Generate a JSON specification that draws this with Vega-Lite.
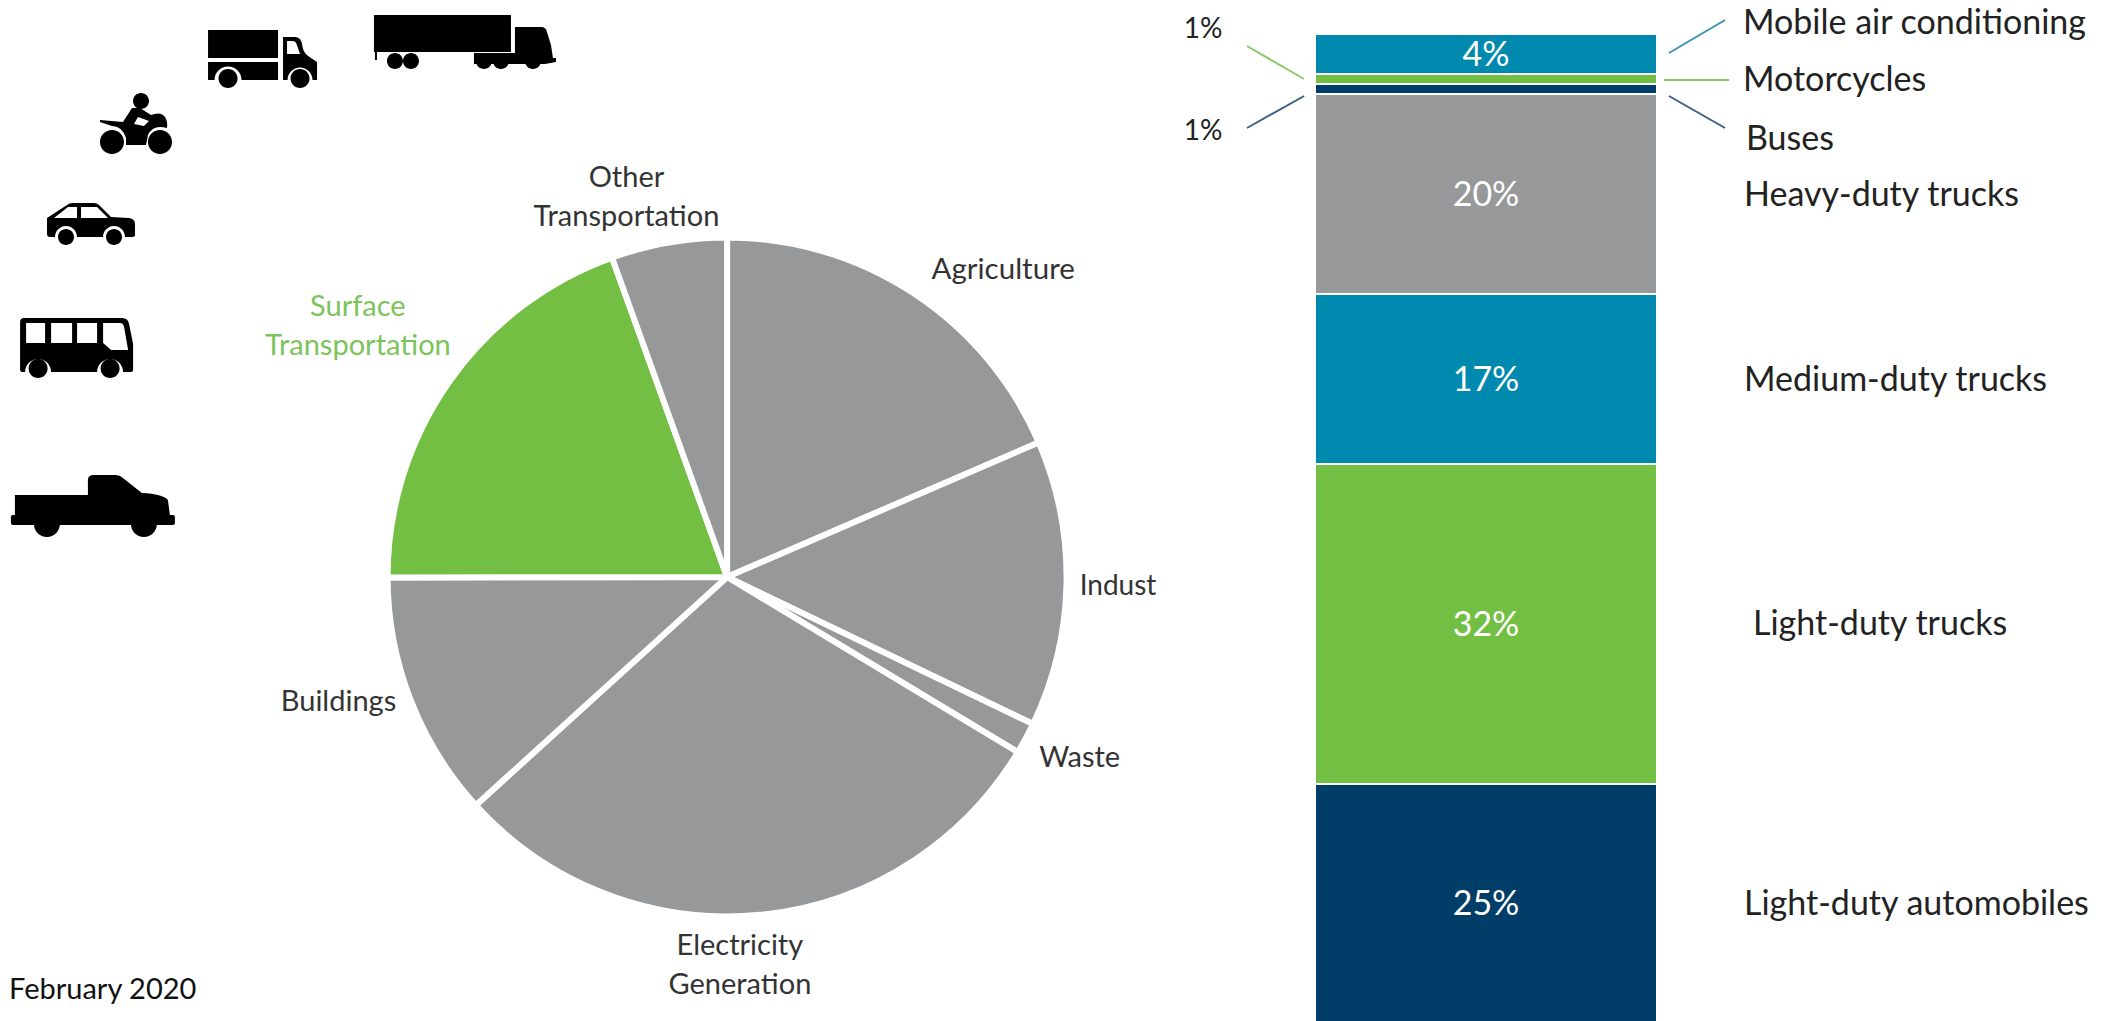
{
"$schema":"https://vega.github.io/schema/vega-lite/v6.json",
"width":2102,"height":1021,"padding":0,
"autosize":{"type":"fit","contains":"padding"},
"background":"white",
"config":{"view":{"stroke":null},"text":{"font":"Lato"}},
"datasets":{
"sectors":[
{"sector":"Agriculture","label":"Agriculture","share":18.5,"rank":1},
{"sector":"Industry","label":"Indust","share":13.6,"rank":2},
{"sector":"Waste","label":"Waste","share":1.5,"rank":3},
{"sector":"Electricity Generation","label":"Electricity\nGeneration","share":29.6,"rank":4},
{"sector":"Buildings","label":"Buildings","share":11.7,"rank":5},
{"sector":"Surface Transportation","label":"Surface\nTransportation","share":19.5,"rank":6},
{"sector":"Other Transportation","label":"Other\nTransportation","share":5.5,"rank":7}],
"vehicles":[
{"stack":"Surface transportation","mode":"Light-duty automobiles","share":25,"shareText":"25%","rank":1},
{"stack":"Surface transportation","mode":"Light-duty trucks","share":32,"shareText":"32%","rank":2},
{"stack":"Surface transportation","mode":"Medium-duty trucks","share":17,"shareText":"17%","rank":3},
{"stack":"Surface transportation","mode":"Heavy-duty trucks","share":20,"shareText":"20%","rank":4},
{"stack":"Surface transportation","mode":"Buses","share":1,"shareText":"1%","rank":5},
{"stack":"Surface transportation","mode":"Motorcycles","share":1,"shareText":"1%","rank":6},
{"stack":"Surface transportation","mode":"Mobile air conditioning","share":4,"shareText":"4%","rank":7}]
},
"resolve":{"scale":{"x":"independent","y":"independent","theta":"independent","color":"independent"}},
"layer":[
{"data":{"name":"sectors"},"mark":{"type":"arc","radius":339.5,"stroke":"white","strokeWidth":6},
 "encoding":{"x":{"datum":34.59,"type":"quantitative","axis":null,"scale":{"domain":[0,100],"range":[0,2102]}},
 "y":{"datum":56.51,"type":"quantitative","axis":null,"scale":{"domain":[0,100],"range":[0,1021]}},
 "theta":{"field":"share","type":"quantitative","stack":true},
 "order":{"field":"rank","type":"quantitative"},
 "color":{"field":"sector","type":"nominal","legend":null,"sort":null,"scale":{"domain":["Agriculture","Industry","Waste","Electricity Generation","Buildings","Surface Transportation","Other Transportation"],"range":["#97989a","#97989a","#97989a","#97989a","#97989a","#72bf44","#97989a"]}}}},

{"data":{"name":"sectors"},"transform":[{"filter":"datum.sector=='Agriculture'"}],"mark":{"type":"text","fontSize":29.5,"fill":"#333","radius":415,"dy":3},
 "encoding":{"x":{"datum":34.59,"type":"quantitative","axis":null,"scale":{"domain":[0,100],"range":[0,2102]}},"y":{"datum":56.51,"type":"quantitative","axis":null,"scale":{"domain":[0,100],"range":[0,1021]}},"theta":{"datum":41.7,"type":"quantitative","scale":{"domain":[0,360],"range":[0,6.2832]}},"text":{"field":"label"}}},
{"data":{"name":"sectors"},"transform":[{"filter":"datum.sector=='Industry'"}],"mark":{"type":"text","fontSize":28,"fill":"#333","radius":391,"dy":4},
 "encoding":{"x":{"datum":34.59,"type":"quantitative","axis":null,"scale":{"domain":[0,100],"range":[0,2102]}},"y":{"datum":56.51,"type":"quantitative","axis":null,"scale":{"domain":[0,100],"range":[0,1021]}},"theta":{"datum":90.9,"type":"quantitative","scale":{"domain":[0,360],"range":[0,6.2832]}},"text":{"field":"label"}}},
{"data":{"name":"sectors"},"transform":[{"filter":"datum.sector=='Waste'"}],"mark":{"type":"text","fontSize":29,"fill":"#333","radius":395,"dy":3},
 "encoding":{"x":{"datum":34.59,"type":"quantitative","axis":null,"scale":{"domain":[0,100],"range":[0,2102]}},"y":{"datum":56.51,"type":"quantitative","axis":null,"scale":{"domain":[0,100],"range":[0,1021]}},"theta":{"datum":116.8,"type":"quantitative","scale":{"domain":[0,360],"range":[0,6.2832]}},"text":{"field":"label"}}},
{"data":{"name":"sectors"},"transform":[{"filter":"datum.sector=='Electricity Generation'"}],"mark":{"type":"text","fontSize":29,"fill":"#333","radius":386,"lineBreak":"\n","lineHeight":39,"dy":-17},
 "encoding":{"x":{"datum":34.59,"type":"quantitative","axis":null,"scale":{"domain":[0,100],"range":[0,2102]}},"y":{"datum":56.51,"type":"quantitative","axis":null,"scale":{"domain":[0,100],"range":[0,1021]}},"theta":{"datum":178.1,"type":"quantitative","scale":{"domain":[0,360],"range":[0,6.2832]}},"text":{"field":"label"}}},
{"data":{"name":"sectors"},"transform":[{"filter":"datum.sector=='Buildings'"}],"mark":{"type":"text","fontSize":29,"fill":"#333","radius":407,"dy":4},
 "encoding":{"x":{"datum":34.59,"type":"quantitative","axis":null,"scale":{"domain":[0,100],"range":[0,2102]}},"y":{"datum":56.51,"type":"quantitative","axis":null,"scale":{"domain":[0,100],"range":[0,1021]}},"theta":{"datum":252.7,"type":"quantitative","scale":{"domain":[0,360],"range":[0,6.2832]}},"text":{"field":"label"}}},
{"data":{"name":"sectors"},"transform":[{"filter":"datum.sector=='Surface Transportation'"}],"mark":{"type":"text","fontSize":29,"fill":"#7cc35a","radius":448,"lineBreak":"\n","lineHeight":39,"dy":-16},
 "encoding":{"x":{"datum":34.59,"type":"quantitative","axis":null,"scale":{"domain":[0,100],"range":[0,2102]}},"y":{"datum":56.51,"type":"quantitative","axis":null,"scale":{"domain":[0,100],"range":[0,1021]}},"theta":{"datum":304.5,"type":"quantitative","scale":{"domain":[0,360],"range":[0,6.2832]}},"text":{"field":"label"}}},
{"data":{"name":"sectors"},"transform":[{"filter":"datum.sector=='Other Transportation'"}],"mark":{"type":"text","fontSize":29,"fill":"#333","radius":394,"lineBreak":"\n","lineHeight":39,"dy":-18},
 "encoding":{"x":{"datum":34.59,"type":"quantitative","axis":null,"scale":{"domain":[0,100],"range":[0,2102]}},"y":{"datum":56.51,"type":"quantitative","axis":null,"scale":{"domain":[0,100],"range":[0,1021]}},"theta":{"datum":345.2,"type":"quantitative","scale":{"domain":[0,360],"range":[0,6.2832]}},"text":{"field":"label"}}},

{"data":{"name":"vehicles"},"mark":{"type":"bar","stroke":"white","strokeWidth":2,"clip":true},
 "encoding":{"x":{"field":"stack","type":"nominal","axis":null,"scale":{"type":"band","range":[1315,1657],"padding":0}},
 "y":{"field":"share","type":"quantitative","axis":null,"stack":"zero","scale":{"domain":[0,100],"range":[1034,34]}},
 "order":{"field":"rank","type":"quantitative"},
 "color":{"field":"mode","type":"nominal","legend":null,"sort":null,"scale":{"domain":["Light-duty automobiles","Light-duty trucks","Medium-duty trucks","Heavy-duty trucks","Buses","Motorcycles","Mobile air conditioning"],"range":["#003d68","#72bf44","#0089ae","#97989a","#003d68","#72bf44","#0089ae"]}}}},

{"data":{"name":"vehicles"},"transform":[{"stack":"share","groupby":[],"sort":[{"field":"rank","order":"ascending"}],"as":["low","high"]},{"calculate":"(datum.low+datum.high)/2","as":"mid"},{"filter":"datum.share>=4&&datum.rank>1"}],
 "mark":{"type":"text","fontSize":34,"fill":"white","dy":2},
 "encoding":{"x":{"field":"stack","type":"nominal","axis":null,"scale":{"type":"band","range":[1315,1657],"padding":0}},"y":{"field":"mid","type":"quantitative","axis":null,"scale":{"domain":[0,100],"range":[1034,34]}},"text":{"field":"shareText"}}},
{"data":{"name":"vehicles"},"transform":[{"stack":"share","groupby":[],"sort":[{"field":"rank","order":"ascending"}],"as":["low","high"]},{"calculate":"(datum.low+datum.high)/2","as":"mid"},{"filter":"datum.rank==1"}],
 "mark":{"type":"text","fontSize":34,"fill":"white","dy":-4},
 "encoding":{"x":{"field":"stack","type":"nominal","axis":null,"scale":{"type":"band","range":[1315,1657],"padding":0}},"y":{"field":"mid","type":"quantitative","axis":null,"scale":{"domain":[0,100],"range":[1034,34]}},"text":{"field":"shareText"}}},

{"data":{"name":"vehicles"},"transform":[{"stack":"share","groupby":[],"sort":[{"field":"rank","order":"ascending"}],"as":["low","high"]},{"calculate":"(datum.low+datum.high)/2","as":"mid"},{"filter":"datum.mode=='Heavy-duty trucks'||datum.mode=='Medium-duty trucks'"}],
 "mark":{"type":"text","fontSize":34,"fill":"#222","align":"left","dx":258,"dy":2},
 "encoding":{"x":{"field":"stack","type":"nominal","axis":null,"scale":{"type":"band","range":[1315,1657],"padding":0}},"y":{"field":"mid","type":"quantitative","axis":null,"scale":{"domain":[0,100],"range":[1034,34]}},"text":{"field":"mode"}}},
{"data":{"name":"vehicles"},"transform":[{"stack":"share","groupby":[],"sort":[{"field":"rank","order":"ascending"}],"as":["low","high"]},{"calculate":"(datum.low+datum.high)/2","as":"mid"},{"filter":"datum.mode=='Light-duty automobiles'"}],
 "mark":{"type":"text","fontSize":34,"fill":"#222","align":"left","dx":258,"dy":-4},
 "encoding":{"x":{"field":"stack","type":"nominal","axis":null,"scale":{"type":"band","range":[1315,1657],"padding":0}},"y":{"field":"mid","type":"quantitative","axis":null,"scale":{"domain":[0,100],"range":[1034,34]}},"text":{"field":"mode"}}},
{"data":{"name":"vehicles"},"transform":[{"stack":"share","groupby":[],"sort":[{"field":"rank","order":"ascending"}],"as":["low","high"]},{"calculate":"(datum.low+datum.high)/2","as":"mid"},{"filter":"datum.mode=='Light-duty trucks'"}],
 "mark":{"type":"text","fontSize":34,"fill":"#222","align":"left","dx":267,"dy":1},
 "encoding":{"x":{"field":"stack","type":"nominal","axis":null,"scale":{"type":"band","range":[1315,1657],"padding":0}},"y":{"field":"mid","type":"quantitative","axis":null,"scale":{"domain":[0,100],"range":[1034,34]}},"text":{"field":"mode"}}},
{"data":{"name":"vehicles"},"transform":[{"stack":"share","groupby":[],"sort":[{"field":"rank","order":"ascending"}],"as":["low","high"]},{"calculate":"(datum.low+datum.high)/2","as":"mid"},{"filter":"datum.mode=='Mobile air conditioning'"}],
 "mark":{"type":"text","fontSize":34,"fill":"#222","align":"left","dx":257,"dy":-30},
 "encoding":{"x":{"field":"stack","type":"nominal","axis":null,"scale":{"type":"band","range":[1315,1657],"padding":0}},"y":{"field":"mid","type":"quantitative","axis":null,"scale":{"domain":[0,100],"range":[1034,34]}},"text":{"field":"mode"}}},
{"data":{"name":"vehicles"},"transform":[{"stack":"share","groupby":[],"sort":[{"field":"rank","order":"ascending"}],"as":["low","high"]},{"calculate":"(datum.low+datum.high)/2","as":"mid"},{"filter":"datum.mode=='Motorcycles'"}],
 "mark":{"type":"text","fontSize":34,"fill":"#222","align":"left","dx":257,"dy":2},
 "encoding":{"x":{"field":"stack","type":"nominal","axis":null,"scale":{"type":"band","range":[1315,1657],"padding":0}},"y":{"field":"mid","type":"quantitative","axis":null,"scale":{"domain":[0,100],"range":[1034,34]}},"text":{"field":"mode"}}},
{"data":{"name":"vehicles"},"transform":[{"stack":"share","groupby":[],"sort":[{"field":"rank","order":"ascending"}],"as":["low","high"]},{"calculate":"(datum.low+datum.high)/2","as":"mid"},{"filter":"datum.mode=='Buses'"}],
 "mark":{"type":"text","fontSize":34,"fill":"#222","align":"left","dx":260,"dy":51},
 "encoding":{"x":{"field":"stack","type":"nominal","axis":null,"scale":{"type":"band","range":[1315,1657],"padding":0}},"y":{"field":"mid","type":"quantitative","axis":null,"scale":{"domain":[0,100],"range":[1034,34]}},"text":{"field":"mode"}}},
{"data":{"name":"vehicles"},"transform":[{"stack":"share","groupby":[],"sort":[{"field":"rank","order":"ascending"}],"as":["low","high"]},{"calculate":"(datum.low+datum.high)/2","as":"mid"},{"filter":"datum.mode=='Motorcycles'"}],
 "mark":{"type":"text","fontSize":28,"fill":"#222","dx":-283,"dy":-49},
 "encoding":{"x":{"field":"stack","type":"nominal","axis":null,"scale":{"type":"band","range":[1315,1657],"padding":0}},"y":{"field":"mid","type":"quantitative","axis":null,"scale":{"domain":[0,100],"range":[1034,34]}},"text":{"field":"shareText"}}},
{"data":{"name":"vehicles"},"transform":[{"stack":"share","groupby":[],"sort":[{"field":"rank","order":"ascending"}],"as":["low","high"]},{"calculate":"(datum.low+datum.high)/2","as":"mid"},{"filter":"datum.mode=='Buses'"}],
 "mark":{"type":"text","fontSize":28,"fill":"#222","dx":-283,"dy":43},
 "encoding":{"x":{"field":"stack","type":"nominal","axis":null,"scale":{"type":"band","range":[1315,1657],"padding":0}},"y":{"field":"mid","type":"quantitative","axis":null,"scale":{"domain":[0,100],"range":[1034,34]}},"text":{"field":"shareText"}}},

{"data":{"values":[{"leader":"Mobile air conditioning"}]},"mark":{"type":"rule","stroke":"#3c93b4","strokeWidth":2},
 "encoding":{"x":{"datum":1.035,"type":"quantitative","axis":null,"scale":{"domain":[0,1],"range":[1315,1657]}},"x2":{"datum":1.199},"y":{"datum":98,"type":"quantitative","axis":null,"scale":{"domain":[0,100],"range":[1033,33]}},"y2":{"datum":101.3}}},
{"data":{"values":[{"leader":"Motorcycles"}]},"mark":{"type":"rule","stroke":"#8cc86a","strokeWidth":2},
 "encoding":{"x":{"datum":1.02,"type":"quantitative","axis":null,"scale":{"domain":[0,1],"range":[1315,1657]}},"x2":{"datum":1.211},"y":{"datum":95.3,"type":"quantitative","axis":null,"scale":{"domain":[0,100],"range":[1033,33]}},"y2":{"datum":95.3}}},
{"data":{"values":[{"leader":"Buses"}]},"mark":{"type":"rule","stroke":"#3f5f80","strokeWidth":2},
 "encoding":{"x":{"datum":1.035,"type":"quantitative","axis":null,"scale":{"domain":[0,1],"range":[1315,1657]}},"x2":{"datum":1.199},"y":{"datum":93.7,"type":"quantitative","axis":null,"scale":{"domain":[0,100],"range":[1033,33]}},"y2":{"datum":90.5}}},
{"data":{"values":[{"leader":"Motorcycles share"}]},"mark":{"type":"rule","stroke":"#8cc86a","strokeWidth":2},
 "encoding":{"x":{"datum":-0.199,"type":"quantitative","axis":null,"scale":{"domain":[0,1],"range":[1315,1657]}},"x2":{"datum":-0.032},"y":{"datum":98.7,"type":"quantitative","axis":null,"scale":{"domain":[0,100],"range":[1033,33]}},"y2":{"datum":95.4}}},
{"data":{"values":[{"leader":"Buses share"}]},"mark":{"type":"rule","stroke":"#3f5f80","strokeWidth":2},
 "encoding":{"x":{"datum":-0.199,"type":"quantitative","axis":null,"scale":{"domain":[0,1],"range":[1315,1657]}},"x2":{"datum":-0.032},"y":{"datum":90.5,"type":"quantitative","axis":null,"scale":{"domain":[0,100],"range":[1033,33]}},"y2":{"datum":93.7}}},

{"data":{"values":[{"note":"February 2020"}]},"mark":{"type":"text","fontSize":29,"fill":"#111","align":"left"},
 "encoding":{"x":{"datum":0.43,"type":"quantitative","axis":null,"scale":{"domain":[0,100],"range":[0,2102]}},"y":{"datum":96.97,"type":"quantitative","axis":null,"scale":{"domain":[0,100],"range":[0,1021]}},"text":{"field":"note"}}},

{"data":{"values":[{"icon":"Medium-duty truck"}]},"mark":{"type":"point","size":4,"filled":true,"fill":"#000","opacity":1,"strokeWidth":0,"shape":"M-54.5,-29 H15.5 V-1 H-54.5 Z M-54.5,3 H15.5 V21 H-21 A13.5 13.5 0 0 0 -48 21 H-54.5 Z M20.5,-22 H33 Q39,-22 40,-12 Q41,-6 47,-2 L54.5,3 V21 H50 A12.5 12.5 0 0 0 25 21 H20.5 Z M24.5,-18 V-5 H37.5 L34,-15 Q33,-18 30,-18 Z M-44,19.5 a9.5,9.5 0 1 1 19,0 a9.5,9.5 0 1 1 -19,0 Z M28,19.5 a9.5,9.5 0 1 1 19,0 a9.5,9.5 0 1 1 -19,0 Z"},
 "encoding":{"x":{"datum":12.49,"type":"quantitative","axis":null,"scale":{"domain":[0,100],"range":[0,2102]}},"y":{"datum":5.78,"type":"quantitative","axis":null,"scale":{"domain":[0,100],"range":[0,1021]}}}},
{"data":{"values":[{"icon":"Heavy-duty truck"}]},"mark":{"type":"point","size":4,"filled":true,"fill":"#000","opacity":1,"strokeWidth":0,"shape":"M-91,-27 H46 V10 H-91 Z M-90,10 H-88 V18 H-90 Z M9,11 H50 V-15 H76 Q81,-15 82,-10 L86,3 L88,16 H91 V20 L80,22 H9 Z M-78,19 a8,8 0 1 1 16,0 a8,8 0 1 1 -16,0 Z M-62,19 a8,8 0 1 1 16,0 a8,8 0 1 1 -16,0 Z M11,19 a8,8 0 1 1 16,0 a8,8 0 1 1 -16,0 Z M28,19 a8,8 0 1 1 16,0 a8,8 0 1 1 -16,0 Z M60,19 a8,8 0 1 1 16,0 a8,8 0 1 1 -16,0 Z"},
 "encoding":{"x":{"datum":22.12,"type":"quantitative","axis":null,"scale":{"domain":[0,100],"range":[0,2102]}},"y":{"datum":4.11,"type":"quantitative","axis":null,"scale":{"domain":[0,100],"range":[0,1021]}}}},
{"data":{"values":[{"icon":"Motorcycle"}]},"mark":{"type":"point","size":4,"filled":true,"fill":"#000","opacity":1,"strokeWidth":0,"shape":"M-3,-22 a8,8 0 1 1 16,0 a8,8 0 1 1 -16,0 Z M-36,-3 L-13,-1 L-4,-15 L4,-15 L15,-8 Q25,-12 29,-6 Q32,-1 31,5 Q17,1 12,12 L10,22 H-10 L-10,15 Q-14,3 -24,3 L-36,-1 Z M-2,1 L8,3 L13,-2 L2,-6 Z M-36,19 a12,12 0 1 1 24,0 a12,12 0 1 1 -24,0 Z M12,19 a12,12 0 1 1 24,0 a12,12 0 1 1 -24,0 Z"},
 "encoding":{"x":{"datum":6.47,"type":"quantitative","axis":null,"scale":{"domain":[0,100],"range":[0,2102]}},"y":{"datum":12.05,"type":"quantitative","axis":null,"scale":{"domain":[0,100],"range":[0,1021]}}}},
{"data":{"values":[{"icon":"Car"}]},"mark":{"type":"point","size":4,"filled":true,"fill":"#000","opacity":1,"strokeWidth":0,"shape":"M-44,-6 L-24,-19 Q-22,-21 -18,-21 H3 Q6,-21 8,-19 L20,-7 L38,-6 Q44,-5 44,0 V11 Q44,13 40,13 H34 A11 11 0 0 0 12,13 H-14 A11 11 0 0 0 -36,13 H-41 Q-44,13 -44,10 Z M-37,-6 H-14 V-17 H-23 Z M-10,-6 H17 L6,-17 H-10 Z M-33,13 a8,8 0 1 1 16,0 a8,8 0 1 1 -16,0 Z M15,13 a8,8 0 1 1 16,0 a8,8 0 1 1 -16,0 Z"},
 "encoding":{"x":{"datum":4.33,"type":"quantitative","axis":null,"scale":{"domain":[0,100],"range":[0,2102]}},"y":{"datum":21.94,"type":"quantitative","axis":null,"scale":{"domain":[0,100],"range":[0,1021]}}}},
{"data":{"values":[{"icon":"Bus"}]},"mark":{"type":"point","size":4,"filled":true,"fill":"#000","opacity":1,"strokeWidth":0,"shape":"M-52,-30 H46 Q52,-30 53,-24 L57,-4 V22 Q57,24 55,24 H47 A13 13 0 0 0 21,24 H-25 A13 13 0 0 0 -51,24 H-54 Q-56,24 -56,21 V-26 Q-56,-30 -52,-30 Z M-50,-25 V-5 H-31 V-25 Z M-25,-25 V-5 H-4 V-25 Z M1,-25 V-5 H21 V-25 Z M27,-25 V-5 L35,2 H52 L48,-21 Q47,-25 44,-25 Z M-47.5,20.5 a9.5,9.5 0 1 1 19,0 a9.5,9.5 0 1 1 -19,0 Z M24.5,20.5 a9.5,9.5 0 1 1 19,0 a9.5,9.5 0 1 1 -19,0 Z"},
 "encoding":{"x":{"datum":3.62,"type":"quantitative","axis":null,"scale":{"domain":[0,100],"range":[0,2102]}},"y":{"datum":34.08,"type":"quantitative","axis":null,"scale":{"domain":[0,100],"range":[0,1021]}}}},
{"data":{"values":[{"icon":"Pickup truck"}]},"mark":{"type":"point","size":4,"filled":true,"fill":"#000","opacity":1,"strokeWidth":0,"shape":"M-78,-11 H-5 V-26 Q-5,-31 1,-31 H22 Q27,-31 30,-28 L49,-13 Q70,-12 75,-6 L77,9 H80 Q82,9 82,11 V17 Q82,19 80,19 H-80 Q-82,19 -82,17 V11 Q-82,9 -80,9 H-78 Z M-59,18 a13,13 0 1 1 26,0 a13,13 0 1 1 -26,0 Z M38,18 a13,13 0 1 1 26,0 a13,13 0 1 1 -26,0 Z"},
 "encoding":{"x":{"datum":4.42,"type":"quantitative","axis":null,"scale":{"domain":[0,100],"range":[0,2102]}},"y":{"datum":49.56,"type":"quantitative","axis":null,"scale":{"domain":[0,100],"range":[0,1021]}}}}
]
}
